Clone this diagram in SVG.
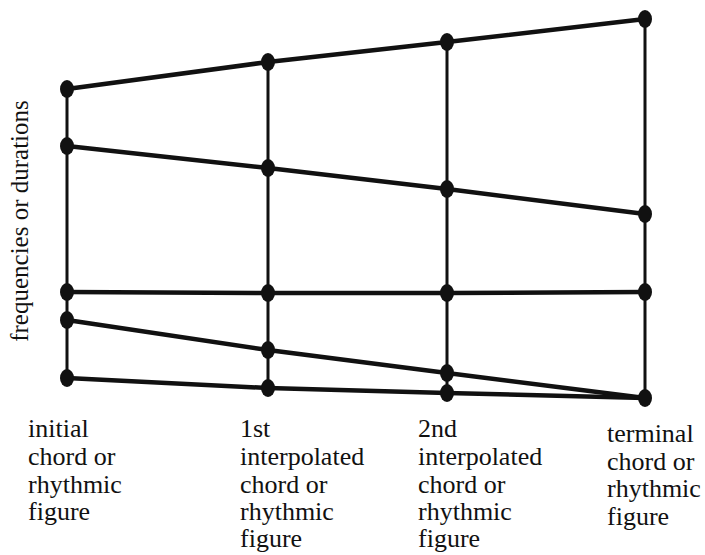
<svg xmlns="http://www.w3.org/2000/svg" width="705" height="555" viewBox="0 0 705 555">
<style>
.e{stroke:#111;stroke-width:4.5;fill:none;stroke-linecap:round}
.v{stroke:#111;stroke-width:3;fill:none}
.n{fill:#111}
.t{font-family:'Liberation Serif','DejaVu Serif',serif;font-size:26px;fill:#111}
.a{font-family:'Liberation Serif','DejaVu Serif',serif;font-size:25px;fill:#111}
</style>
<rect width="705" height="555" fill="#fff"/>
<g id="connectors">
<line class="v" x1="67" y1="89" x2="67" y2="378"/>
<line class="v" x1="268" y1="62" x2="268" y2="388"/>
<line class="v" x1="447" y1="42" x2="447" y2="393"/>
<line class="v" x1="645" y1="19" x2="645" y2="398"/>
<polyline class="e" points="67,89 268,62 447,42 645,19"/>
<polyline class="e" points="67,146 268,168 447,189 645,214"/>
<polyline class="e" points="67,292 268,293 447,293 645,292"/>
<polyline class="e" points="67,320 268,350 447,373 645,398"/>
<polyline class="e" points="67,378 268,388 447,393 645,398"/>
</g>
<g id="col1">
<ellipse class="n" cx="67" cy="89" rx="7" ry="9"/>
<ellipse class="n" cx="67" cy="146" rx="7" ry="9"/>
<ellipse class="n" cx="67" cy="292" rx="7" ry="9"/>
<ellipse class="n" cx="67" cy="320" rx="7" ry="9"/>
<ellipse class="n" cx="67" cy="378" rx="7" ry="9"/>
<text class="t"><tspan x="28" y="437">initial</tspan><tspan x="28" y="465">chord or</tspan><tspan x="28" y="493">rhythmic</tspan><tspan x="28" y="520">figure</tspan></text>
</g>
<g id="col2">
<ellipse class="n" cx="268" cy="62" rx="7" ry="9"/>
<ellipse class="n" cx="268" cy="168" rx="7" ry="9"/>
<ellipse class="n" cx="268" cy="293" rx="7" ry="9"/>
<ellipse class="n" cx="268" cy="350" rx="7" ry="9"/>
<ellipse class="n" cx="268" cy="388" rx="7" ry="9"/>
<text class="t"><tspan x="240" y="437">1st</tspan><tspan x="240" y="465">interpolated</tspan><tspan x="240" y="493">chord or</tspan><tspan x="240" y="520">rhythmic</tspan><tspan x="240" y="547">figure</tspan></text>
</g>
<g id="col3">
<ellipse class="n" cx="447" cy="42" rx="7" ry="9"/>
<ellipse class="n" cx="447" cy="189" rx="7" ry="9"/>
<ellipse class="n" cx="447" cy="293" rx="7" ry="9"/>
<ellipse class="n" cx="447" cy="373" rx="7" ry="9"/>
<ellipse class="n" cx="447" cy="393" rx="7" ry="9"/>
<text class="t"><tspan x="418" y="437">2nd</tspan><tspan x="418" y="465">interpolated</tspan><tspan x="418" y="493">chord or</tspan><tspan x="418" y="520">rhythmic</tspan><tspan x="418" y="547">figure</tspan></text>
</g>
<g id="col4">
<ellipse class="n" cx="645" cy="19" rx="7" ry="9"/>
<ellipse class="n" cx="645" cy="214" rx="7" ry="9"/>
<ellipse class="n" cx="645" cy="292" rx="7" ry="9"/>
<ellipse class="n" cx="645" cy="398" rx="7" ry="9"/>
<text class="t"><tspan x="607" y="442">terminal</tspan><tspan x="607" y="470">chord or</tspan><tspan x="607" y="497">rhythmic</tspan><tspan x="607" y="525">figure</tspan></text>
</g>
<g id="axis-label">
<text class="a" transform="translate(28,221) rotate(-90)" text-anchor="middle">frequencies or durations</text>
</g>
</svg>
